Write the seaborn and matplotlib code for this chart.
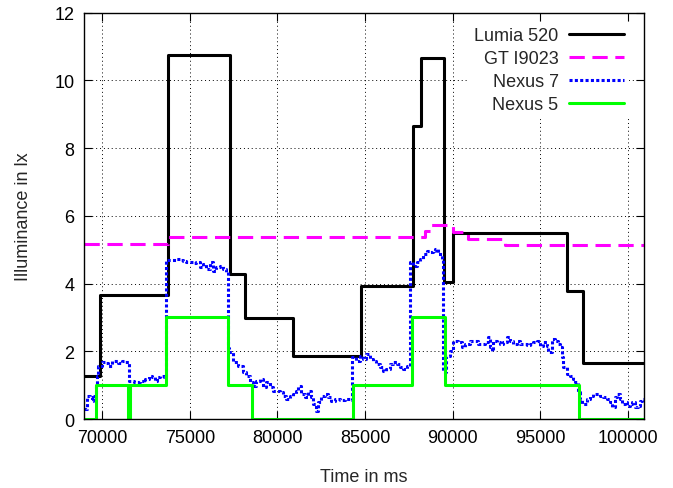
import numpy as np
import pandas as pd
import matplotlib
matplotlib.use("Agg")
import matplotlib.pyplot as plt
import seaborn as sns

# step series (value holds until next time stamp)
lumia_time = [68970, 69886, 73750, 77274, 78171, 80891, 84800, 87714, 88171,
              89520, 90000, 96514, 97463, 100930]
lumia_lux = [1.28, 3.66, 10.76, 4.29, 2.99, 1.87, 3.92, 8.65, 10.66,
             4.06, 5.50, 3.78, 1.655, 1.655]

gt_time = [68970, 73750, 88400, 88750, 90034, 90891, 92990, 100930]
gt_lux = [5.17, 5.37, 5.56, 5.74, 5.52, 5.33, 5.13, 5.13]

n5_time = [68970, 69657, 71480, 71580, 73650, 77160, 78550, 84320, 87657,
           89560, 97223, 100930]
n5_lux = [0, 1, 0, 1, 3, 1, 0, 1, 3, 1, 0, 0]

n7_time = [68970, 69120, 69314, 69406, 69503, 69657, 69731, 69789, 69977, 70171,
           70360, 70549, 70743, 70931, 71120, 71314, 71503, 71600, 71789, 71977,
           72171, 72360, 72457, 72646, 72834, 73029, 73120, 73314, 73503, 73640,
           73846, 74034, 74228, 74417, 74606, 74800, 74988, 75177, 75371, 75560,
           75748, 75943, 76131, 76320, 76514, 76703, 76891, 77086, 77180, 77250,
           77463, 77749, 78034, 78228, 78417, 78606, 78800, 78988, 79177, 79371,
           79560, 79748, 79943, 80131, 80320, 80514, 80703, 80891, 81086, 81177,
           81371, 81560, 81748, 81943, 82034, 82228, 82320, 82514, 82703, 82891,
           83086, 83274, 83560, 83846, 84131, 84263, 84514, 84703, 84891, 85086,
           85274, 85463, 85657, 85846, 86034, 86228, 86417, 86606, 86800, 86988,
           87177, 87371, 87560, 87749, 87943, 88131, 88320, 88514, 88703, 88891,
           88988, 89177, 89371, 89463, 89650, 89846, 90034, 90320, 90514, 90703,
           90988, 91274, 91463, 91657, 91846, 92034, 92131, 92228, 92320, 92514,
           92703, 92891, 93086, 93274, 93463, 93657, 93846, 94034, 94228, 94417,
           94606, 94800, 94988, 95177, 95371, 95463, 95657, 95846, 96034, 96131,
           96228, 96320, 96514, 96703, 96891, 96988, 97177, 97274, 97371, 97560,
           97657, 97846, 98034, 98228, 98417, 98606, 98800, 98988, 99086, 99274,
           99371, 99560, 99657, 99846, 99943, 100131, 100228, 100417, 100606, 100703,
           100800, 100930]
n7_lux = [0.30, 0.69, 0.65, 0.54, 0.69, 0.98, 1.28, 1.58, 1.67, 1.65,
          1.58, 1.72, 1.72, 1.65, 1.72, 1.68, 1.13, 1.13, 1.08, 1.08,
          1.13, 1.08, 1.18, 1.28, 1.23, 1.13, 1.23, 1.28, 1.23, 4.70,
          4.70, 4.70, 4.73, 4.70, 4.68, 4.63, 4.63, 4.60, 4.63, 4.48,
          4.58, 4.43, 4.63, 4.38, 4.48, 4.53, 4.43, 4.33, 2.10, 1.98,
          1.68, 1.58, 1.39, 1.28, 1.09, 0.98, 1.13, 1.18, 0.94, 1.09,
          0.94, 0.84, 0.84, 0.79, 0.69, 0.59, 0.69, 0.74, 0.84, 0.98,
          0.74, 0.64, 0.84, 0.64, 0.44, 0.25, 0.49, 0.69, 0.74, 0.64,
          0.54, 0.59, 0.57, 0.59, 0.57, 1.82, 1.72, 1.87, 1.77, 1.92,
          1.77, 1.72, 1.63, 1.53, 1.43, 1.48, 1.63, 1.68, 1.63, 1.53,
          1.48, 1.58, 4.63, 4.53, 4.63, 4.73, 4.88, 4.97, 4.93, 4.97,
          5.02, 4.88, 4.73, 1.38, 1.87, 2.02, 2.31, 2.27, 2.12, 2.22,
          2.31, 2.31, 2.22, 2.22, 2.27, 2.41, 2.12, 2.02, 2.31, 2.27,
          2.22, 2.27, 2.41, 2.31, 2.22, 2.31, 2.22, 2.22, 2.20, 2.22,
          2.27, 2.31, 2.17, 2.27, 2.17, 1.97, 2.36, 2.31, 2.22, 2.12,
          1.82, 1.53, 1.33, 1.28, 1.18, 1.08, 0.79, 0.59, 0.44, 0.44,
          0.59, 0.69, 0.74, 0.74, 0.69, 0.64, 0.59, 0.49, 0.35, 0.64,
          0.74, 0.59, 0.44, 0.49, 0.39, 0.44, 0.49, 0.35, 0.39, 0.54,
          0.59, 0.59]

x_ticks = [70000, 75000, 80000, 85000, 90000, 95000, 100000]
y_ticks = [0, 2, 4, 6, 8, 10, 12]

sns.set_theme(style="ticks")
plt.rcParams['font.family'] = ['Liberation Sans', 'DejaVu Sans']

fig, ax = plt.subplots(figsize=(6.73, 4.89), dpi=100)
fig.subplots_adjust(left=0.125, right=0.957, top=0.972, bottom=0.141)

series = [
    ("Lumia 520", lumia_time, lumia_lux, "black", "-"),
    ("GT I9023", gt_time, gt_lux, "#ff00ff", (0, (5, 2.5))),
    ("Nexus 7", n7_time, n7_lux, "#0000ff", (0, (1, 0.75))),
    ("Nexus 5", n5_time, n5_lux, "#00ff00", "-"),
]
for name, t, v, col, ls in series:
    df = pd.DataFrame({"time": t, "lux": v})
    sns.lineplot(data=df, x="time", y="lux", ax=ax, color=col, linestyle=ls,
                 linewidth=2.2, drawstyle="steps-post", estimator=None,
                 label=name, legend=False)

ax.set_xlim(68970, 100930)
ax.set_ylim(0, 12)
ax.set_xticks(x_ticks)
ax.set_yticks(y_ticks)
ax.tick_params(direction="in", length=6, width=0.8, top=True, right=True,
               labelsize=13, colors="black", pad=7)
ax.grid(True, color="black", linestyle=(0, (1, 3)), linewidth=0.7)
for s in ax.spines.values():
    s.set_color("black")
    s.set_linewidth(1.0)

ax.set_xlabel("Time in ms", fontsize=13, labelpad=16)
ax.set_ylabel("Illuminance in lx", fontsize=13, labelpad=16)

leg = ax.legend(loc="upper right", bbox_to_anchor=(0.973, 0.977), fontsize=13,
                markerfirst=False, frameon=True, fancybox=False, framealpha=1,
                handlelength=3.0, handletextpad=0.6, labelspacing=0.33,
                borderpad=0.3, borderaxespad=0)
leg.get_frame().set_edgecolor("none")
leg.get_frame().set_facecolor("white")

fig.savefig("out.png", dpi=100)
